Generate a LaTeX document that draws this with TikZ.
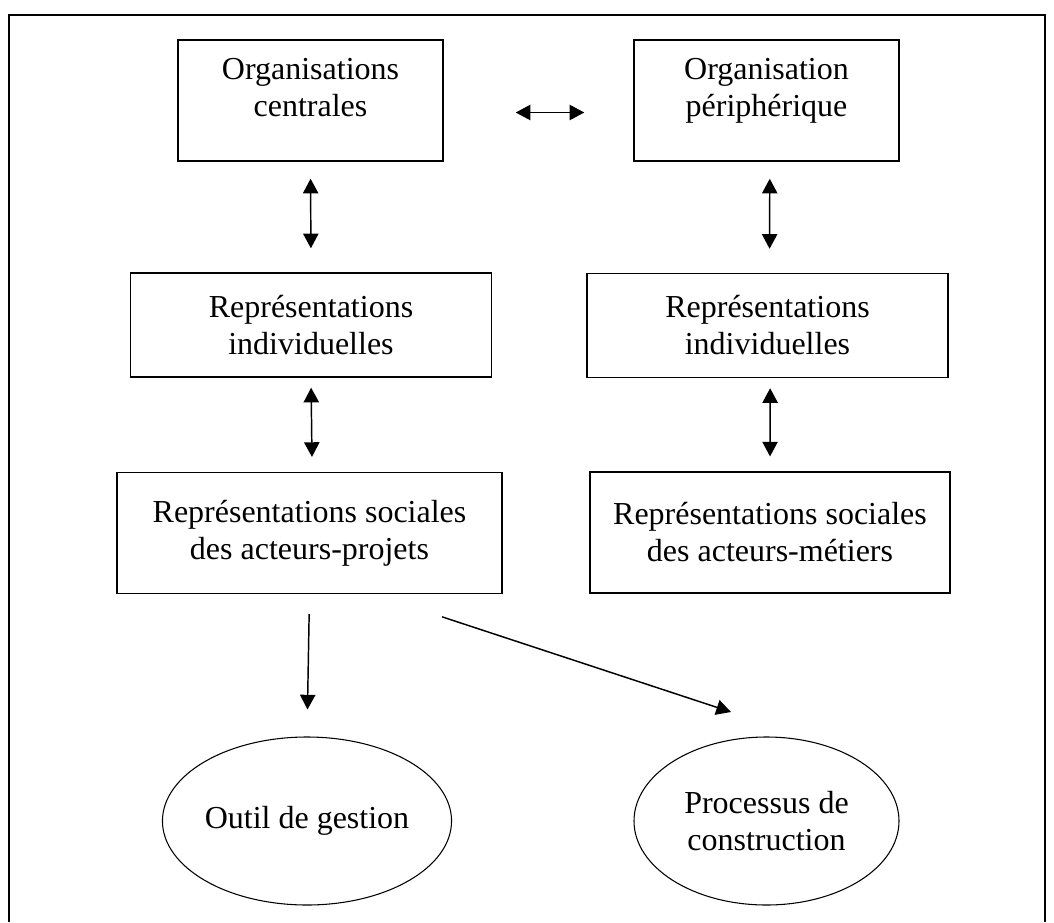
\documentclass[tikz,border=0pt]{standalone}
\usepackage{fontspec}
\setmainfont{Liberation Serif}
\usepackage{tikz}
\usetikzlibrary{positioning, arrows.meta, shapes.geometric, calc}

\begin{document}
\begin{tikzpicture}[
    x=0.75pt, y=-0.75pt,
    element/.style={rectangle, draw, line width=1.1pt, inner sep=0pt, align=center, font=\fontsize{24}{27.75}\selectfont},
    topbox/.style={element, minimum width=198.75pt, minimum height=90.75pt, text depth=20pt},
    repbox/.style={element, minimum width=271pt, minimum height=78pt},
    socbox/.style={element, minimum height=90.5pt},
    result/.style={ellipse, draw, line width=0.8pt, inner sep=0pt, minimum width=198.75pt, minimum height=126pt, align=center, font=\fontsize{24}{27.75}\selectfont},
    arrow/.style={-{Triangle[length=11pt, width=11.5pt]}, line width=1.1pt},
    twoway/.style={{Triangle[length=11pt, width=11.5pt]}-{Triangle[length=11pt, width=11.5pt]}, line width=1.1pt}
]

\useasboundingbox (0,0) rectangle (1054,922);
% open frame (no bottom edge)
\draw[line width=1.2pt] (9,922) -- (9,15) -- (1045,15) -- (1045,922);

\node[topbox] (orgc) at (310.5, 100.5) {Organisations\\centrales};
\node[topbox] (orgp) at (766.5, 100.5) {Organisation\\périphérique};

\node[repbox] (repil) at (311, 325) {Représentations\\individuelles};
\node[repbox] (repir) at (767.5, 325.5) {Représentations\\individuelles};

\node[socbox, minimum width=288.75pt] (repsl) at (309.5, 533) {Représentations sociales\\des acteurs-projets};
\node[socbox, minimum width=270pt] (repsr) at (770, 532.5) {Représentations sociales\\des acteurs-métiers};

\node[result] (outil) at (307, 821) {Outil de gestion};
\node[result] (proc) at (766.5, 821) {Processus de\\construction};

\coordinate (procTip) at (731, 712);

\draw[twoway, shorten <=54pt, shorten >=36.75pt] ([yshift=-9pt]orgc.east) -- ([yshift=-9pt]orgp.west);
\draw[twoway, shorten <=12.75pt, shorten >=18pt] (orgc.south) -- (repil.north);
\draw[twoway, shorten <=12.75pt, shorten >=18pt] ([xshift=2.5pt]orgp.south) -- ([xshift=1.5pt]repir.north);
\draw[twoway, shorten <=7.5pt, shorten >=11.25pt] (repil.south) -- ([xshift=2pt]repsl.north);
\draw[twoway, shorten <=7.5pt, shorten >=11.25pt] ([xshift=2pt]repir.south) -- (repsr.north);

\draw[arrow, shorten <=15pt, shorten >=20.25pt] (repsl.south) -- (outil.north);
\draw[arrow, shorten <=54.5pt] ([xshift=47.6pt]repsl.south) -- (procTip);

\end{tikzpicture}
\end{document}
